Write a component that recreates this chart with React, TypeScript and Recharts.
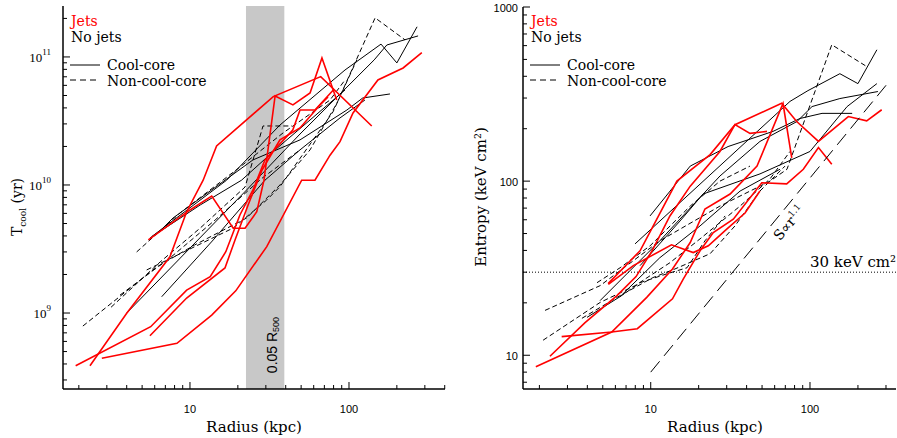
import React from 'react';
import { LineChart, Line, XAxis, YAxis, ReferenceArea, ReferenceLine } from 'recharts';

// ---- left panel: cooling time (yr) against radius (kpc) ----
const tJet1R = [2.79, 8.28, 13.7, 19.4, 30.4, 50.4, 61.1, 76, 87.8, 106, 152, 219, 287];
const tJet1T = [4.43e8, 5.8e8, 9.64e8, 1.49e9, 3.3e9, 1.09e10, 1.09e10, 1.71e10, 2.18e10, 3.65e10, 6.61e10, 8.2e10, 1.08e11];
const tJet2R = [1.91, 5.66, 9.53, 13.4, 16.8, 20.6, 24.9, 29.6, 44.3, 49.2, 61.1, 79.7];
const tJet2T = [3.87e8, 7.82e8, 1.51e9, 1.92e9, 3.01e9, 5.83e9, 9.14e9, 1.57e10, 2.69e10, 3.85e10, 3.85e10, 5.52e10];
const tJet3R = [2.35, 4.0, 7.48, 9.53, 12.1, 14.7, 33.4, 66.4, 139];
const tJet3T = [3.87e8, 9.95e8, 2.75e9, 6.18e9, 1.09e10, 2.02e10, 4.9e10, 7.02e10, 2.89e10];
const tJet4R = [5.47, 10, 13.7, 18.7, 22.2, 26.3, 29.2, 34.3, 44.4, 56.9, 67.6, 83.7];
const tJet4T = [3.72e9, 6.38e9, 8.2e9, 4.59e9, 4.59e9, 6.18e9, 1.09e10, 4.96e10, 4.22e10, 5.23e10, 9.82e10, 4.61e10];
const tJet5R = [5.6, 9.53, 16.6, 19.2, 23.2, 28.4, 36.8, 49.2, 65.7, 73.8];
const tJet5T = [6.65e8, 1.31e9, 2.25e9, 3.72e9, 6.98e9, 1.31e10, 2.25e10, 2.79e10, 4.22e10, 4.87e10];

const tCc1R = [5.74, 17.0, 36.8, 94.4, 159, 200, 268];
const tCc1T = [3.95e9, 1.09e10, 2.94e10, 7.91e10, 1.26e11, 8.98e10, 1.72e11];
const tCc2R = [4.0, 22.7, 49.2, 144, 173, 272];
const tCc2T = [1.0e9, 9.14e9, 2.5e10, 9.48e10, 1.24e11, 1.46e11];
const tCc3R = [6.29, 7.82, 24.9, 49.2, 97, 122, 181];
const tCc3T = [4.22e9, 5.52e9, 1.57e10, 2.25e10, 3.85e10, 4.78e10, 5.14e10];
const tCc4R = [6.64, 14.0, 29.6, 49.2, 87.8, 126];
const tCc4T = [1.34e9, 3.72e9, 1.09e10, 1.88e10, 3.34e10, 4.61e10];
const tCc5R = [5.6, 11.6, 21.1, 34.3, 56.9, 94.4];
const tCc5T = [3.85e9, 6.98e9, 1.09e10, 1.88e10, 3.22e10, 5.52e10];

const tNcc1R = [2.12, 6.18, 10.7, 22.7, 36.8, 56.9, 84.1, 146, 225];
const tNcc1T = [7.91e8, 2.29e9, 3.4e9, 5.52e9, 1.0e10, 1.88e10, 4.37e10, 2.02e11, 1.36e11];
const tNcc2R = [3.19, 6.48, 11.6, 22.2, 28.8, 43.8];
const tNcc2T = [1.11e9, 2.5e9, 4.61e9, 9.64e9, 2.89e10, 2.89e10];
const tNcc3R = [4.62, 8.65, 20.6, 38.5, 76, 94.4];
const tNcc3T = [3.0e9, 6.04e9, 1.38e10, 2.55e10, 4.61e10, 6.61e10];
const tNcc4R = [5.34, 18.7, 30.4, 36.8, 79.3, 112];
const tNcc4T = [2.17e9, 4.61e9, 7.64e9, 9.7e9, 3.72e10, 9.48e10];
const tNcc5R = [3.63, 7.48, 14.4, 28.4, 49.2];
const tNcc5T = [1.38e9, 2.69e9, 5.33e9, 1.13e10, 1.88e10];

// ---- right panel: entropy (keV cm^2) against radius (kpc) ----
const sJet1R = [5.4, 8.57, 10.9, 14.6, 23.6, 33.8, 66.4, 82.5, 113, 174, 227, 282];
const sJet1S = [25.8, 39.8, 60.4, 100, 142, 211, 280, 220, 169, 235, 222, 257];
const sJet2R = [1.9, 5.69, 9.44, 13.7, 17.7, 21.9, 31.5, 46.5, 67.7, 76.8];
const sJet2S = [8.58, 13.6, 21.5, 31.3, 44.4, 69.2, 84.3, 122, 279, 136];
const sJet3R = [2.76, 5.69, 8.24, 13.7, 16.0, 20.4, 24.7, 33.0, 49.8, 71.4, 90.8, 113, 137];
const sJet3S = [12.8, 13.6, 14.2, 21.1, 27.4, 39.8, 50.6, 60.4, 97.8, 96.5, 117, 156, 125];
const sJet4R = [2.33, 3.87, 6.14, 8.09, 10.2, 13.2, 17.7, 27.2, 33.8, 42.0, 53.7];
const sJet4S = [9.87, 15.4, 22.0, 28.3, 39.8, 63.1, 93.6, 148, 211, 188, 193];
const sJet5R = [5.42, 7.78, 13.5, 18.5, 23.0, 30.0, 39.1, 48.5];
const sJet5S = [25.5, 32.7, 43.1, 38.9, 42.5, 53.0, 65.6, 87.7];

const sCc1R = [7.97, 74.9, 97.1, 154, 200, 263];
const sCc1S = [43.6, 287, 331, 414, 363, 568];
const sCc2R = [4.81, 11.4, 27.2, 48.5, 82.9, 103, 154, 267];
const sCc2S = [20.6, 45.4, 107, 169, 220, 268, 298, 327];
const sCc3R = [9.9, 17.7, 30.6, 58.6, 86.5, 119, 184];
const sCc3S = [63.1, 122, 158, 193, 229, 245, 245];
const sCc4R = [8.57, 15.3, 21.3, 48.5, 100, 171, 263];
const sCc4S = [32.7, 59.1, 84.3, 110, 148, 268, 363];
const sCc5R = [3.98, 6.42, 11.4, 20.4, 36.4, 64.8];
const sCc5S = [16.5, 21.7, 36.3, 55.3, 87.7, 117];

const sNcc1R = [2.17, 4.81, 11.4, 27.2, 56.1, 71.7, 137, 228];
const sNcc1S = [18.1, 25.1, 45.4, 71.9, 100, 117, 607, 454];
const sNcc2R = [2.11, 4.81, 7.97, 13.2, 20.4, 36.4, 56.1, 74.9];
const sNcc2S = [12.2, 20.1, 25.1, 34.0, 46.6, 71.9, 103, 148];
const sNcc3R = [3.7, 6.14, 10.3, 14.2, 23.6, 33.8, 48.5, 69.7];
const sNcc3S = [16.3, 21.5, 27.9, 31.3, 38.3, 55.3, 87.7, 122];
const sNcc4R = [4.6, 6.42, 9.9, 17.7, 27.2, 42.0];
const sNcc4S = [26.1, 31.8, 42.5, 71.9, 100, 122];
const sNcc5R = [6.42, 8.57, 12.7, 16.9, 21.9, 29.3];
const sNcc5S = [21.7, 26.1, 29.4, 31.8, 45.4, 63.1];

// S ∝ r^1.1 guide and the 30 keV cm^2 floor
const sLawR = [10, 304];
const sLawS = [8.0, 360];
const entropyFloor = 30;

// 0.05 R500 band (kpc)
const bandR = [22.5, 39.2];

// axis ticks
const tRadiusTicks = [2, 3, 4, 5, 6, 7, 8, 9, 10, 20, 30, 40, 50, 60, 70, 80, 90, 100, 200, 300, 400];
const tTcoolTicks = [3e8, 4e8, 5e8, 6e8, 7e8, 8e8, 9e8, 1e9, 2e9, 3e9, 4e9, 5e9, 6e9, 7e9, 8e9, 9e9,
  1e10, 2e10, 3e10, 4e10, 5e10, 6e10, 7e10, 8e10, 9e10, 1e11, 2e11];
const sRadiusTicks = [2, 3, 4, 5, 6, 7, 8, 9, 10, 20, 30, 40, 50, 60, 70, 80, 90, 100, 200, 300];
const sEntropyTicks = [7, 8, 9, 10, 20, 30, 40, 50, 60, 70, 80, 90, 100, 200, 300, 400, 500, 600, 700, 800, 900, 1000];

type Kind = 'jet' | 'cc' | 'ncc';
const rows = (r: number[], v: number[]) => r.map((x, i) => ({ x, y: v[i] }));

const leftSeries: [number[], number[], Kind][] = [
  [tNcc1R, tNcc1T, 'ncc'], [tNcc2R, tNcc2T, 'ncc'], [tNcc3R, tNcc3T, 'ncc'], [tNcc4R, tNcc4T, 'ncc'], [tNcc5R, tNcc5T, 'ncc'],
  [tCc1R, tCc1T, 'cc'], [tCc2R, tCc2T, 'cc'], [tCc3R, tCc3T, 'cc'], [tCc4R, tCc4T, 'cc'], [tCc5R, tCc5T, 'cc'],
  [tJet1R, tJet1T, 'jet'], [tJet2R, tJet2T, 'jet'], [tJet3R, tJet3T, 'jet'], [tJet4R, tJet4T, 'jet'], [tJet5R, tJet5T, 'jet'],
];
const rightSeries: [number[], number[], Kind][] = [
  [sNcc1R, sNcc1S, 'ncc'], [sNcc2R, sNcc2S, 'ncc'], [sNcc3R, sNcc3S, 'ncc'], [sNcc4R, sNcc4S, 'ncc'], [sNcc5R, sNcc5S, 'ncc'],
  [sCc1R, sCc1S, 'cc'], [sCc2R, sCc2S, 'cc'], [sCc3R, sCc3S, 'cc'], [sCc4R, sCc4S, 'cc'], [sCc5R, sCc5S, 'cc'],
  [sJet1R, sJet1S, 'jet'], [sJet2R, sJet2S, 'jet'], [sJet3R, sJet3S, 'jet'], [sJet4R, sJet4S, 'jet'], [sJet5R, sJet5S, 'jet'],
];

const RED = '#ff0000';
const SERIF = '"DejaVu Serif", serif';
const SANS = '"Liberation Sans", Arial, sans-serif';
const lineStyle = (k: Kind) =>
  k === 'jet'
    ? { stroke: RED, strokeWidth: 1.6 }
    : k === 'cc'
    ? { stroke: '#000', strokeWidth: 1 }
    : { stroke: '#000', strokeWidth: 1, strokeDasharray: '5 3' };

const isMajor = (v: number) => Math.abs(Math.log10(v) - Math.round(Math.log10(v))) < 1e-6;
const frame = { stroke: '#000', strokeWidth: 1.5 };

// x ticks drawn inward from the frame edge
const xTick = (edge: number, dir: number, label: boolean) => (p: any) => {
  const v = p.payload.value;
  const major = isMajor(v);
  return (
    <g>
      <line x1={p.x} x2={p.x} y1={edge} y2={edge + dir * (major ? 7 : 4)} stroke="#000" />
      {label && major && (
        <text x={p.x} y={edge + 24} textAnchor="middle" fontFamily={SANS} fontSize={11}>{v}</text>
      )}
    </g>
  );
};

const yTick = (edge: number, dir: number, label: 'pow' | 'plain' | null) => (p: any) => {
  const v = p.payload.value;
  const major = isMajor(v);
  return (
    <g>
      <line x1={edge} x2={edge + dir * (major ? 7 : 4)} y1={p.y} y2={p.y} stroke="#000" />
      {label === 'pow' && major && (
        <text x={edge - 12} y={p.y + 5} textAnchor="end" fontFamily='"Liberation Serif", serif' fontSize={13}>
          10<tspan dy={-7} fontSize={9}>{Math.round(Math.log10(v))}</tspan>
        </text>
      )}
      {label === 'plain' && major && (
        <text x={edge - 5} y={p.y + 5} textAnchor="end" fontFamily={SANS} fontSize={11}>{v}</text>
      )}
    </g>
  );
};

function Legend({ x }: { x: number }) {
  return (
    <g fontFamily={SERIF} fontSize={14}>
      <text x={x} y={25.5} fill={RED}>Jets</text>
      <text x={x} y={41.5}>No jets</text>
      <line x1={x - 1} x2={x + 29} y1={65} y2={65} stroke="#000" />
      <line x1={x - 1} x2={x + 29} y1={80} y2={80} stroke="#000" strokeDasharray="6 4" />
      <text x={x + 36} y={69.5}>Cool-core</text>
      <text x={x + 36} y={85.5}>Non-cool-core</text>
    </g>
  );
}

export default function App() {
  return (
    <div style={{ position: 'absolute', left: 0, top: 0, width: 897, height: 438, background: '#fff' }}>
      <div style={{ position: 'absolute', left: 0, top: 0 }}>
        <LineChart width={450} height={438} margin={{ top: 6, right: 5, bottom: 0, left: 0 }}>
          <XAxis xAxisId="b" dataKey="x" type="number" scale="log" domain={[1.59, 401.6]} allowDataOverflow
            ticks={tRadiusTicks} interval={0} height={49} tickLine={false} axisLine={frame} tick={xTick(389, -1, true)} />
          <XAxis xAxisId="t" orientation="top" dataKey="x" type="number" scale="log" domain={[1.59, 401.6]} allowDataOverflow
            ticks={tRadiusTicks} interval={0} height={0} tickLine={false} axisLine={frame} tick={xTick(6, 1, false)} />
          <YAxis yAxisId="l" type="number" scale="log" domain={[2.55e8, 2.5e11]} allowDataOverflow
            ticks={tTcoolTicks} interval={0} width={63} tickLine={false} axisLine={frame} tick={yTick(63, 1, 'pow')} />
          <YAxis yAxisId="r" orientation="right" type="number" scale="log" domain={[2.55e8, 2.5e11]} allowDataOverflow
            ticks={tTcoolTicks} interval={0} width={0} tickLine={false} axisLine={frame} tick={yTick(445, -1, null)} />
          <ReferenceArea xAxisId="b" yAxisId="l" x1={bandR[0]} x2={bandR[1]} fill="#c8c8c8" fillOpacity={1} stroke="none" />
          {leftSeries.map(([r, v, k], i) => (
            <Line key={i} xAxisId="b" yAxisId="l" data={rows(r, v)} dataKey="y" type="linear" dot={false}
              isAnimationActive={false} {...lineStyle(k)} />
          ))}
        </LineChart>
      </div>
      <div style={{ position: 'absolute', left: 450, top: 0 }}>
        <LineChart width={447} height={438} margin={{ top: 7, right: 1, bottom: 0, left: 0 }}>
          <XAxis xAxisId="b" dataKey="x" type="number" scale="log" domain={[1.578, 346.7]} allowDataOverflow
            ticks={sRadiusTicks} interval={0} height={49} tickLine={false} axisLine={frame} tick={xTick(389, -1, true)} />
          <XAxis xAxisId="t" orientation="top" dataKey="x" type="number" scale="log" domain={[1.578, 346.7]} allowDataOverflow
            ticks={sRadiusTicks} interval={0} height={0} tickLine={false} axisLine={frame} tick={xTick(7, 1, false)} />
          <YAxis yAxisId="l" type="number" scale="log" domain={[6.4, 1000]} allowDataOverflow
            ticks={sEntropyTicks} interval={0} width={73} tickLine={false} axisLine={frame} tick={yTick(73, 1, 'plain')} />
          <YAxis yAxisId="r" orientation="right" type="number" scale="log" domain={[6.4, 1000]} allowDataOverflow
            ticks={sEntropyTicks} interval={0} width={0} tickLine={false} axisLine={frame} tick={yTick(446, -1, null)} />
          <ReferenceLine xAxisId="b" yAxisId="l" y={entropyFloor} stroke="#000" strokeDasharray="1 2" />
          {rightSeries.map(([r, v, k], i) => (
            <Line key={i} xAxisId="b" yAxisId="l" data={rows(r, v)} dataKey="y" type="linear" dot={false}
              isAnimationActive={false} {...lineStyle(k)} />
          ))}
          <Line xAxisId="b" yAxisId="l" data={rows(sLawR, sLawS)} dataKey="y" type="linear" dot={false}
            isAnimationActive={false} stroke="#000" strokeWidth={1} strokeDasharray="14 7" />
        </LineChart>
      </div>
      <svg width={897} height={438} style={{ position: 'absolute', left: 0, top: 0, pointerEvents: 'none' }}>
        <Legend x={71} />
        <Legend x={531} />
        <text transform="translate(22,207) rotate(-90)" textAnchor="middle" fontFamily={SERIF} fontSize={14}>
          T<tspan dy={4} fontSize={9}>cool</tspan><tspan dy={-4}> (yr)</tspan>
        </text>
        <text transform="translate(486,197) rotate(-90)" textAnchor="middle" fontFamily={SERIF} fontSize={15}>
          Entropy (keV cm²)
        </text>
        <text x={254} y={432} textAnchor="middle" fontFamily={SERIF} fontSize={15}>Radius (kpc)</text>
        <text x={715} y={432} textAnchor="middle" fontFamily={SERIF} fontSize={15}>Radius (kpc)</text>
        <text transform="translate(277,345) rotate(-90)" textAnchor="middle" fontFamily={SANS} fontSize={14}>
          0.05 R<tspan dy={2} fontSize={9}>500</tspan>
        </text>
        <text x={810} y={267} fontFamily={SERIF} fontSize={15}>30 keV cm²</text>
        <text transform="translate(793,226) rotate(-50)" textAnchor="middle" fontFamily={SERIF} fontSize={14}>
          S∝r<tspan dy={-6} fontSize={9}>1.1</tspan>
        </text>
      </svg>
    </div>
  );
}
